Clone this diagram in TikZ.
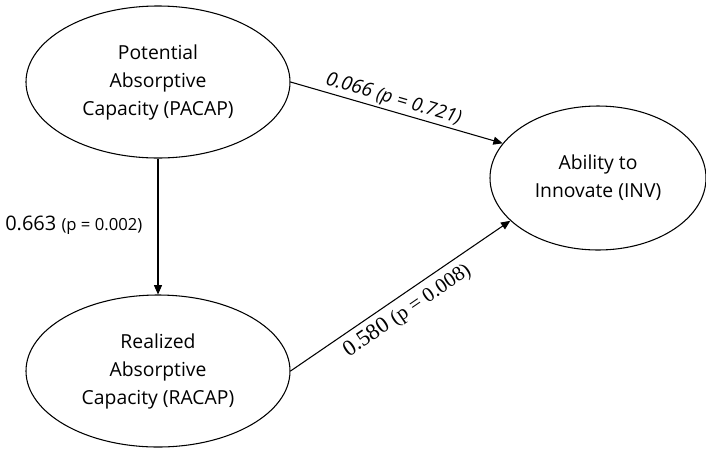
\documentclass[tikz,border=0pt]{standalone}
\usepackage{fontspec}
\setmainfont{Open Sans}
\newfontfamily\labelserif{Liberation Serif}
\usetikzlibrary{shapes.geometric, positioning, arrows.meta}

\begin{document}
\begin{tikzpicture}[
            x=0.75pt, y=-0.75pt,
            construct/.style={draw, ellipse, thick, minimum width=198pt, minimum height=114pt, align=center, font=\fontsize{14.5}{21}\selectfont, inner sep=0pt},
            arrow/.style={-{Triangle[length=7pt, width=6pt]}, thick},
            coef/.style={font=\fontsize{14.5}{16}\selectfont, inner sep=1.5pt}
        ]
            \useasboundingbox (0,0) rectangle (706,451);
            \node[construct] (pacap) at (158,82) {Potential\\Absorptive\\Capacity (PACAP)};
            \node[construct] (racap) at (158,371) {Realized\\Absorptive\\Capacity (RACAP)};
            \node[construct, minimum width=162pt, minimum height=108pt] (inv) at (598,178) {Ability to\\Innovate (INV)};

            \draw[arrow] (pacap.south) -- (racap.north);
            \draw[arrow] (pacap.east) -- node[coef, sloped, above, pos=0.47]{\itshape 0.066 {\fontsize{14}{16}\selectfont (p = 0.721)}} (inv.160);
            \draw[arrow] (racap.east) -- node[coef, sloped, below, pos=0.49, inner sep=4.5pt]{\labelserif\fontsize{17}{19}\selectfont 0.580 {\fontsize{15.5}{17}\selectfont (p = 0.008)}} (inv.206);

            \node[coef, anchor=west] (pathlabel) at (3,225) {\fontsize{15}{17}\selectfont 0.663 {\fontsize{12.5}{14}\selectfont (p = 0.002)}};
        \end{tikzpicture}
\end{document}
